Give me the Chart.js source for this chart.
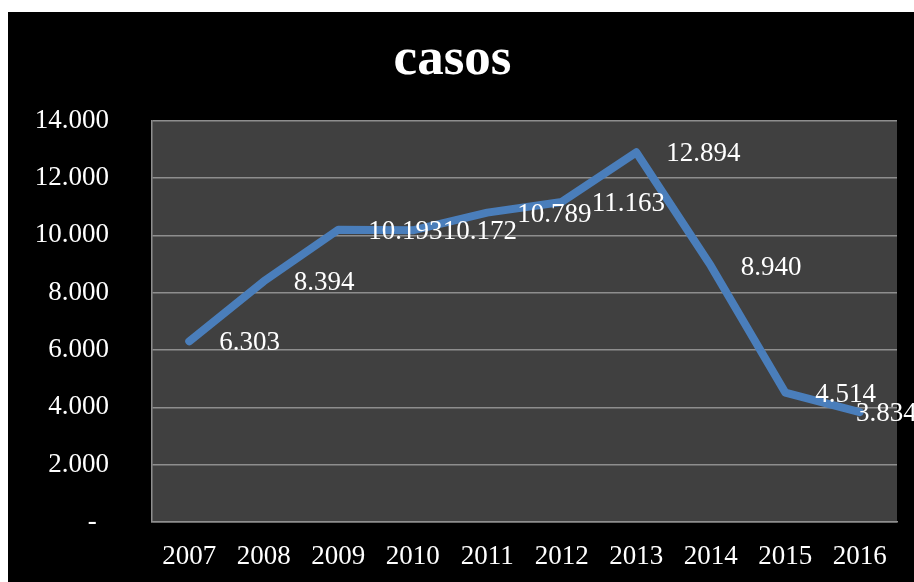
<!DOCTYPE html>
<html>
<head>
<meta charset="utf-8">
<script src="https://cdn.jsdelivr.net/npm/chart.js@4/dist/chart.umd.min.js"></script>
<style>
    html, body { margin: 0; padding: 0; background: #fff; }
    #wrap { position: absolute; left: 8px; top: 12px; width: 906px; height: 570px; background: #000; }
</style>
</head>
<body>
<div id="wrap"><canvas id="casosChart" width="906" height="570"></canvas></div>
<script>
const years = ['2007', '2008', '2009', '2010', '2011', '2012', '2013', '2014', '2015', '2016'];
const casos = [6303, 8394, 10193, 10172, 10789, 11163, 12894, 8940, 4514, 3834];
const yTicks = [0, 2000, 4000, 6000, 8000, 10000, 12000, 14000];

const serif = '"Liberation Serif", "Times New Roman", serif';

// 12894 -> "12.894"
function formatNum(value) {
    return String(Math.round(value)).replace(/\B(?=(\d{3})+(?!\d))/g, '.');
}

// Dark fill behind the plot area
const plotBackground = {
    id: 'plotBackground',
    beforeDraw(chart) {
        const { ctx, chartArea } = chart;
        ctx.save();
        ctx.fillStyle = '#404040';
        ctx.fillRect(chartArea.left, chartArea.top, chartArea.right - chartArea.left, chartArea.bottom - chartArea.top);
        ctx.restore();
    }
};

// Value labels to the right of each point
const valueLabels = {
    id: 'valueLabels',
    afterDatasetsDraw(chart) {
        const { ctx } = chart;
        const meta = chart.getDatasetMeta(0);
        ctx.save();
        ctx.font = '27px ' + serif;
        ctx.fillStyle = '#ffffff';
        ctx.textAlign = 'left';
        ctx.textBaseline = 'middle';
        meta.data.forEach((pt, i) => {
            const x = Math.min(pt.x + 30, chart.width - 58);
            ctx.fillText(formatNum(casos[i]), x, pt.y + 2);
        });
        ctx.restore();
    }
};

new Chart(document.getElementById('casosChart').getContext('2d'), {
    type: 'line',
    data: {
        labels: years,
        datasets: [{
            label: 'casos',
            data: casos,
            borderColor: '#4a7ebb',
            borderWidth: 8,
            borderCapStyle: 'round',
            borderJoinStyle: 'round',
            pointRadius: 0,
            tension: 0,
            fill: false
        }]
    },
    options: {
        responsive: false,
        animation: false,
        layout: { padding: { left: 0, right: 17, top: 0, bottom: 0 } },
        scales: {
            x: {
                offset: true,
                grid: { display: false, drawTicks: false },
                border: { display: true, color: '#8e8e8e', width: 1.5 },
                ticks: { color: '#ffffff', font: { family: serif, size: 27 }, padding: 19, maxRotation: 0 },
                afterFit(scale) { scale.height = 60; }
            },
            y: {
                min: 0,
                max: 14000,
                afterBuildTicks(scale) { scale.ticks = yTicks.map(v => ({ value: v })); },
                grid: { color: '#8e8e8e', lineWidth: 1.5, drawTicks: false },
                border: { display: true, color: '#8e8e8e', width: 1.5 },
                ticks: {
                    color: '#ffffff',
                    font: { family: serif, size: 27 },
                    padding: 43,
                    callback: v => v === 0 ? '- \u2009' : formatNum(v)
                },
                afterFit(scale) { scale.width = 144; }
            }
        },
        plugins: {
            legend: { display: false },
            tooltip: { enabled: false },
            title: {
                display: true,
                text: 'casos',
                color: '#ffffff',
                font: { family: serif, size: 53, weight: 'bold' },
                padding: { top: 17, bottom: 28 }
            }
        }
    },
    plugins: [plotBackground, valueLabels]
});
</script>
</body>
</html>
